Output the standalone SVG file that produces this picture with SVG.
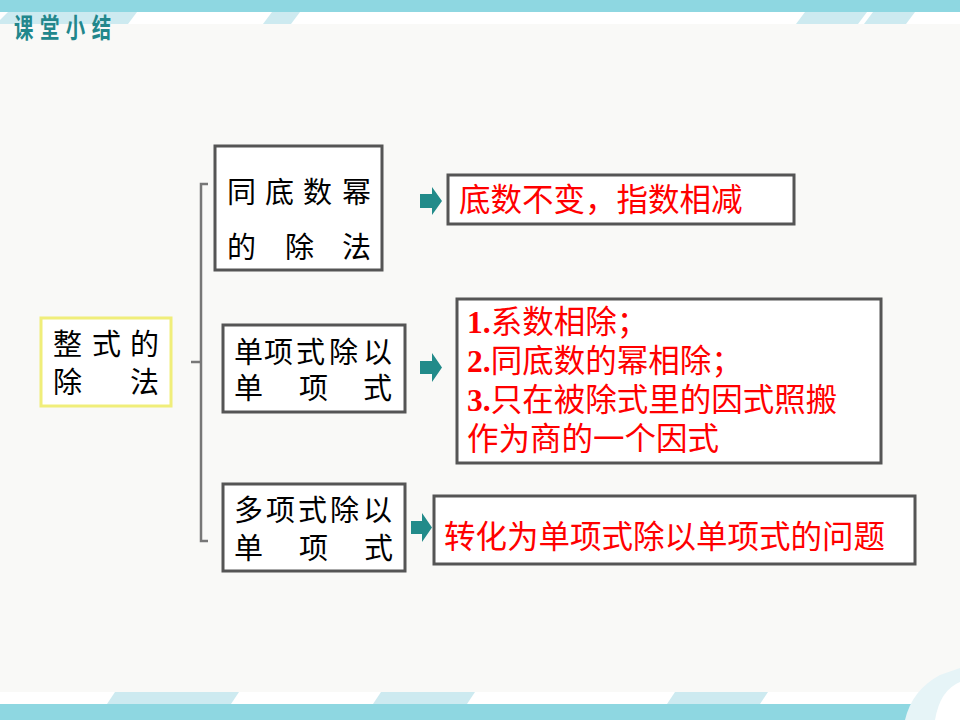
<svg xmlns="http://www.w3.org/2000/svg" width="960" height="720" viewBox="0 0 960 720">
<style>
.box{fill:#FFFFFF;stroke:#555555;stroke-width:3}
.main{fill:#FFFFFF;stroke:#F0EE7A;stroke-width:3}
.blk{font-family:"Noto Sans CJK SC","Noto Sans",sans-serif;font-size:29px;fill:#000000}
.red{font-family:"Noto Sans CJK SC","Noto Sans",sans-serif;font-size:31.5px;fill:#FF0000}
.num{font-family:"Liberation Serif",serif;font-weight:bold}
.arrow{fill:#228B8A}
.stripe{fill:#CDEAF0}
</style>
<rect x="0" y="0" width="960" height="720" fill="#F9F9F7"/>
<g id="frame">
<rect x="0" y="12" width="960" height="12" fill="#FFFFFF"/>
<polygon class="stripe" points="8,12 137,12 128,24 0,24 0,20"/>
<polygon class="stripe" points="272,12 300,12 291,24 263,24"/>
<polygon class="stripe" points="805,12 867,12 858,24 796,24"/>
<polygon class="stripe" points="873,12 915,12 906,24 864,24"/>
<rect x="0" y="0" width="960" height="12" fill="#8ED7E1"/>
<rect x="0" y="692" width="960" height="12" fill="#FFFFFF"/>
<polygon class="stripe" points="115,692 239,692 231,704 107,704"/>
<polygon class="stripe" points="381,692 475,692 467,704 373,704"/>
<polygon class="stripe" points="675,692 768,692 760,704 667,704"/>
<rect x="0" y="704" width="915" height="16" fill="#8ED7E1"/>
<path d="M905,720 Q912,690 940,675 L960,668 L960,720 Z" fill="#E6F4F7"/>
<path d="M935,720 Q940,690 960,682 L960,720 Z" fill="#FFFFFF"/>
</g>
<g id="title" transform="translate(14,38) scale(0.72,1)">
<text x="0" y="0" font-family="Noto Sans CJK SC,sans-serif" font-size="27" font-weight="bold" letter-spacing="9" fill="#22878C">课堂小结</text>
</g>
<g id="connectors" fill="none" stroke="#777777" stroke-width="2.5">
<path d="M208,184 H201 V541 H208"/>
<path d="M191,362 H201"/>
</g>
<g id="arrows">
<polygon class="arrow" points="420,194 432,194 432,187 442,201 432,215 432,208 420,208"/>
<polygon class="arrow" points="420,361 432,361 432,353 442,367.5 432,382 432,374 420,374"/>
<polygon class="arrow" points="411,521 422,521 422,513 432,527.5 422,542 422,534 411,534"/>
</g>
<g id="node-main">
<rect class="main" x="41" y="318" width="130" height="88"/>
<text class="blk" x="53 92 130" y="355">整式的</text>
<text class="blk" x="53 130" y="393">除法</text>
</g>
<g id="node-1">
<rect class="box" x="215" y="146" width="167" height="124"/>
<text class="blk" x="227 265 303 342" y="203">同底数幂</text>
<text class="blk" x="227 285 342" y="258">的除法</text>
</g>
<g id="node-2">
<rect class="box" x="223" y="325" width="182" height="87"/>
<text class="blk" x="234 264 296 329 363" y="363">单项式除以</text>
<text class="blk" x="234 299 363" y="399">单项式</text>
</g>
<g id="node-3">
<rect class="box" x="223" y="484" width="182" height="87"/>
<text class="blk" x="234 266 298 330 363" y="521">多项式除以</text>
<text class="blk" x="234 299 364" y="559">单项式</text>
</g>
<g id="result-1">
<rect class="box" x="448" y="175" width="346" height="49"/>
<text class="red" x="459" y="211">底数不变，指数相减</text>
</g>
<g id="result-2">
<rect class="box" x="457" y="299" width="424" height="164"/>
<text class="red" x="467" y="333"><tspan class="num">1.</tspan>系数相除；</text>
<text class="red" x="467" y="372"><tspan class="num">2.</tspan>同底数的幂相除；</text>
<text class="red" x="467" y="411"><tspan class="num">3.</tspan>只在被除式里的因式照搬</text>
<text class="red" x="467" y="450">作为商的一个因式</text>
</g>
<g id="result-3">
<rect class="box" x="434" y="496" width="481" height="68"/>
<text class="red" x="444" y="548">转化为单项式除以单项式的问题</text>
</g>
</svg>
